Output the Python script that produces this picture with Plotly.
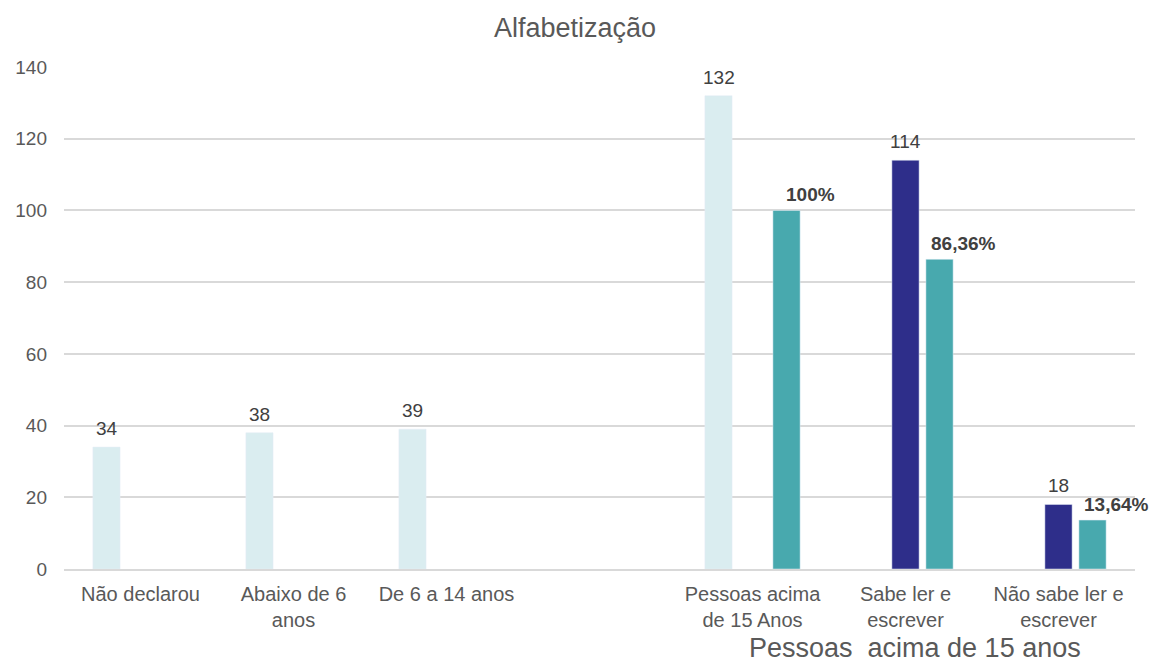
import plotly.graph_objects as go

categories = ["Não declarou", "Abaixo de 6<br>anos", "De 6 a 14 anos", " ",
              "Pessoas acima<br>de 15 Anos", "Sabe ler e<br>escrever", "Não sabe ler e<br>escrever"]
faixa_etaria = [34, 38, 39, None, 132, None, None]
alfabetizacao = [None, None, None, None, None, 114, 18]
percentual = [None, None, None, None, 100, 86.36, 13.64]
percentual_labels = ["", "", "", "", "100%", "86,36%", "13,64%"]
title_text = "Alfabetização"
group_title = "Pessoas\u00a0 acima de 15 anos"

FONT = "Liberation Sans, Arial, sans-serif"
LABEL_COLOR = "#404040"
TICK_COLOR = "#595959"

fig = go.Figure()
fig.add_trace(go.Bar(x=categories, y=faixa_etaria, marker_color="#daedf0",
                     cliponaxis=False, name="Faixa"))
fig.add_trace(go.Bar(x=categories, y=alfabetizacao, marker_color="#2e2e8a",
                     cliponaxis=False, name="Alfabetização"))
fig.add_trace(go.Bar(x=categories, y=percentual, marker_color="#48a9ae",
                     cliponaxis=False, name="Percentual"))

for c, v in zip(categories, faixa_etaria):
    if v is not None:
        fig.add_annotation(x=c, y=v, text=str(v), showarrow=False,
                           xanchor="center", yanchor="bottom", xshift=-34, yshift=6,
                           font=dict(size=19, color=LABEL_COLOR, family=FONT))
for c, v in zip(categories, alfabetizacao):
    if v is not None:
        fig.add_annotation(x=c, y=v, text=str(v), showarrow=False,
                           xanchor="center", yanchor="bottom", xshift=0, yshift=6,
                           font=dict(size=19, color=LABEL_COLOR, family=FONT))
for c, v, lab in zip(categories, percentual, percentual_labels):
    if v is not None:
        fig.add_annotation(x=c, y=v, text="<b>" + lab + "</b>", showarrow=False,
                           xanchor="center", yanchor="bottom", xshift=58, yshift=3,
                           font=dict(size=19, color=LABEL_COLOR, family=FONT))

fig.add_annotation(x=categories[5], y=-(664 - 569) / 502, xref="x", yref="paper",
                   text=group_title, showarrow=False, xanchor="center", yanchor="bottom",
                   xshift=9, yshift=0, borderpad=0,
                   font=dict(size=27, color=TICK_COLOR, family=FONT))

fig.update_layout(
    width=1150, height=664,
    margin=dict(l=64, r=15, t=67, b=95, autoexpand=False),
    plot_bgcolor="white", paper_bgcolor="white",
    barmode="group", bargap=0.333, bargroupgap=0.2,
    showlegend=False,
    font=dict(family=FONT, color=TICK_COLOR),
    title=dict(text=title_text, x=0.5, xanchor="center", y=1 - 28 / 664, yanchor="middle",
               yref="container", font=dict(size=27, color=TICK_COLOR, family=FONT)),
    xaxis=dict(type="category", range=[-0.5, 6.5], autorange=False, showgrid=False,
               showline=True, linecolor="#d9d9d9", automargin=False,
               linewidth=1.5, ticks="", tickfont=dict(size=20, color=TICK_COLOR),
               ticklabelstandoff=6),
    yaxis=dict(range=[0, 140], dtick=20, showgrid=True, gridcolor="#d9d9d9", gridwidth=1.5,
               zeroline=False, ticks="", tickfont=dict(size=19, color=TICK_COLOR),
               ticklabelstandoff=16, automargin=False),
)

fig.write_html("out.html")
